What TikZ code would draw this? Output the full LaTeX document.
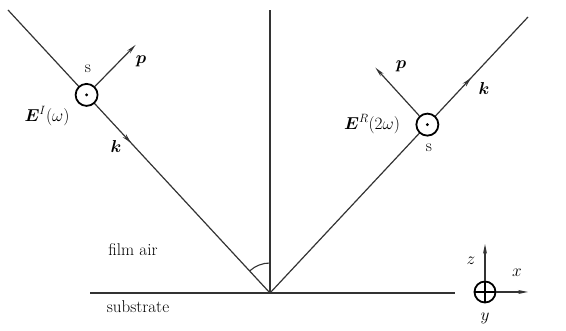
\documentclass[tikz,border=0pt]{standalone}
\usepackage{amsmath, amssymb, bm}
\usepackage{tikz}
\usetikzlibrary{arrows.meta, calc, decorations.markings}

\begin{document}
\begin{tikzpicture}[x=1pt, y=1pt,
    ray/.style={draw, line width=1.2pt, black!80},
    arr/.style={-{Stealth[length=10pt, width=4pt]}, line width=1.2pt, black!80},
    pol/.style={draw, circle, line width=1.8pt, fill=white, minimum size=22pt, inner sep=0pt},
    lbl/.style={font=\fontsize{17}{19}\selectfont, inner sep=1pt},
    midk/.style={postaction={decorate}, decoration={markings, mark=at position #1 with {\arrow{Stealth[length=10pt, width=4.5pt]}}}}
]
\useasboundingbox (0,0) rectangle (566,331);

% interface and normal
\coordinate (O) at (270,38);
\coordinate (N) at (270,321);
\coordinate (Ltop) at (8,321);
\coordinate (Rtop) at (528,314);
\coordinate (subL) at (90,38);
\coordinate (subR) at (455,38);

\coordinate (cI) at ($(O)!0.70!(Ltop)$);
\coordinate (cR) at ($(O)!0.61!(Rtop)$);

\draw[ray] (subL) -- (subR);
\draw[ray] (O) -- (N);
\draw[ray, midk=0.47] (Ltop) -- (O);
\draw[ray, midk=0.78] (O) -- (Rtop);

% angle of incidence
\draw[line width=1.1pt, black!80] ($(O)+(90:30)$) arc (90:132.8:30);

% incident field
\node[pol] (EI) at (cI) {};
\fill (EI.center) circle (1.6pt);
\coordinate (pI) at ($(EI.center)+(49,50)$);
\draw[arr] (EI) -- (pI);
\node[lbl] (sI) at (88,262) {s};
\node[lbl] (pIl) at (141,270) {$\bm{p}$};
\node[lbl] (EIl) at (47,215) {$\bm{E}^{I}(\omega)$};
\node[lbl] (kI) at (116,184) {$\bm{k}$};

% reflected field
\node[pol] (ER) at (cR) {};
\fill (ER.center) circle (1.6pt);
\coordinate (pR) at ($(ER.center)+(-52,57)$);
\draw[arr] (ER) -- (pR);
\node[lbl] (sR) at (429,183) {s};
\node[lbl] (pRl) at (401,265) {$\bm{p}$};
\node[lbl] (ERl) at (372,207) {$\bm{E}^{R}(2\omega)$};
\node[lbl] (kR) at (484,242) {$\bm{k}$};

% media
\node[lbl] (air) at (133,81) {film air};
\node[lbl] (sub) at (138,24) {substrate};

% axes
\node[pol, minimum size=21pt] (ax) at (485,39) {};
\draw[line width=1.4pt] (ax.north) -- (ax.south) (ax.west) -- (ax.east);
\coordinate (zt) at (485,87);
\coordinate (xt) at (528,39);
\draw[arr] (ax.north) -- (zt);
\draw[arr] (ax.east) -- (xt);
\node[lbl] (zl) at (471,70) {$z$};
\node[lbl] (xl) at (517,58) {$x$};
\node[lbl] (yl) at (485,13) {$y$};
\end{tikzpicture}
\end{document}
